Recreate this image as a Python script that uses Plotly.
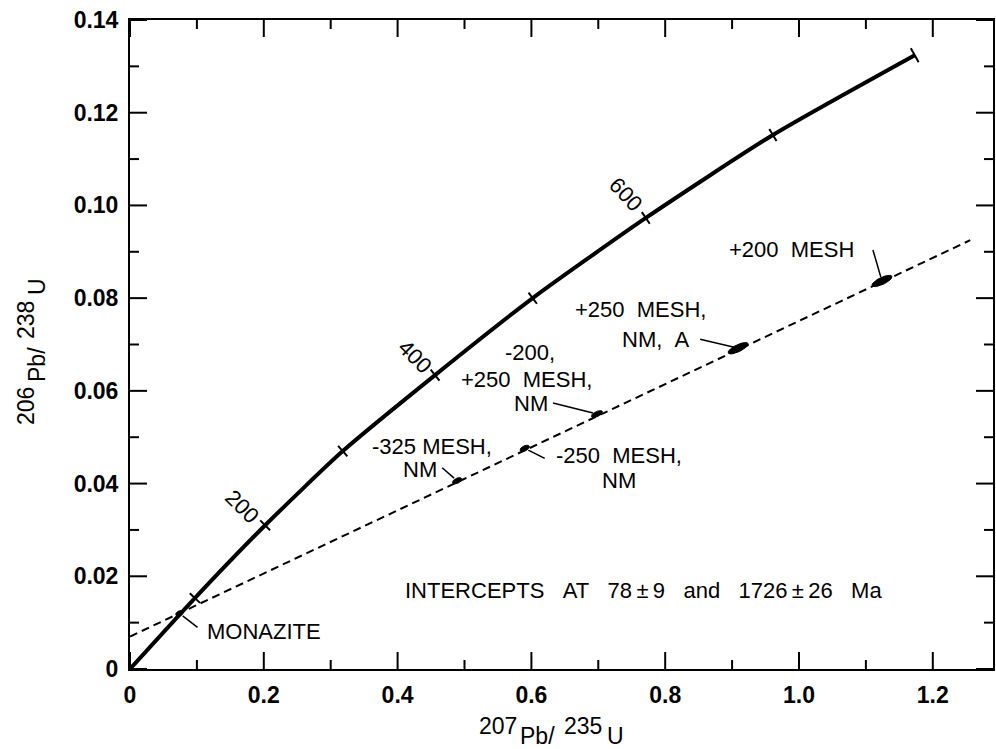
import numpy as np
import plotly.graph_objects as go

# ---------------- data ----------------
conc_age = [0, 100, 200, 300, 400, 500, 600, 700, 800]
conc_x = [0.0, 0.097, 0.202, 0.318, 0.456, 0.602, 0.771, 0.961, 1.173]
conc_y = [0.0, 0.0153, 0.0310, 0.0470, 0.0634, 0.0800, 0.0973, 0.1152, 0.1324]
age_labels = [200, 400, 600]

disc_x = [0.0, 1.256]
disc_y = [0.0070, 0.0925]

sample_names = ["MONAZITE", "-325 MESH, NM", "-250 MESH, NM",
                "-200, +250 MESH, NM", "+250 MESH, NM, A", "+200 MESH"]
sample_x = [0.074, 0.489, 0.590, 0.698, 0.909, 1.124]
sample_y = [0.0120, 0.0406, 0.0476, 0.0550, 0.0692, 0.0837]
NB = "\u00a0"
sample_label_lines = [
    ["MONAZITE"],
    ["-325 MESH,", "NM"],
    ["-250" + NB * 2 + "MESH,", "NM"],
    ["-200,", "+250" + NB * 2 + "MESH,", "NM"],
    ["+250" + NB * 2 + "MESH,", "NM," + NB * 2 + "A"],
    ["+200" + NB * 2 + "MESH"],
]
intercept_text = ("INTERCEPTS" + NB * 3 + "AT" + NB * 3 + "78\u2009±\u20099" + NB * 3 + "and"
                  + NB * 3 + "1726\u2009±\u200926" + NB * 3 + "Ma")

x_title_parts = ["207", "Pb/", "235", "U"]
y_title_parts = ["206", "Pb/", "238", "U"]

x_tickvals = [0, 0.2, 0.4, 0.6, 0.8, 1.0, 1.2]
x_ticktext = ["0", "0.2", "0.4", "0.6", "0.8", "1.0", "1.2"]
y_tickvals = [0, 0.02, 0.04, 0.06, 0.08, 0.10, 0.12, 0.14]
y_ticktext = ["0", "0.02", "0.04", "0.06", "0.08", "0.10", "0.12", "0.14"]
x_minor = [round((a + b) / 2, 3) for a, b in zip(x_tickvals, x_tickvals[1:])]
y_minor = [round((a + b) / 2, 4) for a, b in zip(y_tickvals, y_tickvals[1:])]

# ---------------- layout / style ----------------
W, H = 996, 749
ML, MR, MT, MB = 130, 3, 20, 80
XR = [0, 1.29]
YR = [0, 0.14]
SX = (W - ML - MR) / (XR[1] - XR[0])   # px per x unit
SY = (H - MT - MB) / (YR[1] - YR[0])   # px per y unit
FONT = "Liberation Sans, Arial, Helvetica, sans-serif"
FS = 22
MAJ_LEN, MIN_LEN = 17, 9
TICK_LINE = dict(color="black", width=2)

label_offsets = [
    [(25, 18, "left")],
    [(-25, -34, "center"), (-37, -11, "center")],
    [(94, 7, "center"), (94, 32, "center")],
    [(-67, -62, "center"), (-70, -35, "center"), (-66, -11, "center")],
    [(-98, -39, "center"), (-82, -9, "center")],
    [(-90, -31, "center")],
]
leader_offsets = [(18, 14), (-15, -13), (20, 10), (-44, -11), (-38, -9), (-9, -31)]
ellipse_axes = [(4, 2.5), (5, 2.5), (5, 2.5), (6, 2.5), (11, 3.5), (11, 3.5)]
age_label_offsets = [(-23, -19, 45), (-20, -19, 45), (-20, -23, 47)]
x_title_pos = [(477, 726), (518, 736), (562, 726), (605, 736)]
y_title_pos = [(26, 406), (37, 365), (26, 320), (37, 287)]

fig = go.Figure()

# axis tick marks as layout shapes (inside, all four sides), built from the tick arrays
shapes = []
for vals, ln in ((x_tickvals, MAJ_LEN), (x_minor, MIN_LEN)):
    for v in vals:
        shapes.append(dict(type="line", xref="x", yref="y", x0=v, x1=v, y0=YR[0], y1=YR[0] + ln / SY,
                           line=TICK_LINE))
        shapes.append(dict(type="line", xref="x", yref="y", x0=v, x1=v, y0=YR[1], y1=YR[1] - ln / SY,
                           line=TICK_LINE))
for vals, ln in ((y_tickvals, MAJ_LEN), (y_minor, MIN_LEN)):
    for v in vals:
        shapes.append(dict(type="line", xref="x", yref="y", x0=XR[0], x1=XR[0] + ln / SX, y0=v, y1=v,
                           line=TICK_LINE))
        shapes.append(dict(type="line", xref="x", yref="y", x0=XR[1], x1=XR[1] - ln / SX, y0=v, y1=v,
                           line=TICK_LINE))

# concordia curve
fig.add_trace(go.Scatter(x=conc_x, y=conc_y, mode="lines",
                         line=dict(color="black", width=4, shape="spline", smoothing=0.6),
                         hoverinfo="skip", showlegend=False))

# age ticks across concordia (perpendicular in screen space)
tx, ty = [], []
n = len(conc_x)
for i in range(1, n):
    j0, j1 = i - 1, min(i + 1, n - 1)
    dxp = (conc_x[j1] - conc_x[j0]) * SX
    dyp = (conc_y[j1] - conc_y[j0]) * SY
    L = np.hypot(dxp, dyp)
    nx, ny = -dyp / L, dxp / L
    h = 8 if i == n - 1 else 7
    tx += [conc_x[i] - nx * h / SX, conc_x[i] + nx * h / SX, None]
    ty += [conc_y[i] - ny * h / SY, conc_y[i] + ny * h / SY, None]
fig.add_trace(go.Scatter(x=tx, y=ty, mode="lines", line=dict(color="black", width=2),
                         hoverinfo="skip", showlegend=False))

# discordia
fig.add_trace(go.Scatter(x=disc_x, y=disc_y, mode="lines",
                         line=dict(color="black", width=2, dash="8px,5px"),
                         hoverinfo="skip", showlegend=False))

# sample ellipses oriented along discordia (screen space)
ux, uy = (disc_x[1] - disc_x[0]) * SX, (disc_y[1] - disc_y[0]) * SY
ul = np.hypot(ux, uy)
ux, uy = ux / ul, uy / ul
vx, vy = -uy, ux
tt = np.linspace(0, 2 * np.pi, 40)
for (sxv, syv), (a, b), name in zip(zip(sample_x, sample_y), ellipse_axes, sample_names):
    ex = sxv + (a * np.cos(tt) * ux + b * np.sin(tt) * vx) / SX
    ey = syv + (a * np.cos(tt) * uy + b * np.sin(tt) * vy) / SY
    fig.add_trace(go.Scatter(x=ex, y=ey, mode="lines", fill="toself", fillcolor="black",
                             line=dict(color="black", width=1), name=name,
                             hoverinfo="name", showlegend=False))

# leader lines from each sample toward its label
lx_all, ly_all = [], []
for k in range(len(sample_x)):
    lx, ly = leader_offsets[k]
    d = np.hypot(lx, ly)
    s = 4.0 / d
    lx_all += [sample_x[k] + lx * s / SX, sample_x[k] + lx / SX, None]
    ly_all += [sample_y[k] - ly * s / SY, sample_y[k] - ly / SY, None]
fig.add_trace(go.Scatter(x=lx_all, y=ly_all, mode="lines", line=dict(color="black", width=1.5),
                         hoverinfo="skip", showlegend=False))

ann = []
afont = dict(family=FONT, size=FS, color="black")
for k in range(len(sample_x)):
    for line, (dx, dy, anc) in zip(sample_label_lines[k], label_offsets[k]):
        ann.append(dict(x=sample_x[k], y=sample_y[k], xref="x", yref="y", text=line,
                        showarrow=False, xanchor=anc, yanchor="middle",
                        xshift=dx, yshift=-dy, font=afont))

for age, (dx, dy, ang) in zip(age_labels, age_label_offsets):
    i = conc_age.index(age)
    ann.append(dict(x=conc_x[i], y=conc_y[i], xref="x", yref="y", text=str(age),
                    showarrow=False, xshift=dx, yshift=-dy, textangle=ang, font=afont))

ann.append(dict(x=0, y=0, xref="paper", yref="paper", xshift=403 - ML, yshift=(H - MB) - 590,
                text=intercept_text, showarrow=False,
                xanchor="left", yanchor="middle", font=afont))

tfont = dict(family=FONT, size=23, color="black")
for part, (px, py) in zip(x_title_parts, x_title_pos):
    ann.append(dict(x=0, y=0, xref="paper", yref="paper", xshift=px - ML, yshift=(H - MB) - py,
                    text=part, showarrow=False, xanchor="left", yanchor="middle", font=tfont))
for part, (px, py) in zip(y_title_parts, y_title_pos):
    ann.append(dict(x=0, y=0, xref="paper", yref="paper", xshift=px - ML, yshift=(H - MB) - py,
                    text=part, showarrow=False, xanchor="center", yanchor="middle",
                    textangle=-90, font=tfont))

tickfont = dict(family=FONT, size=23, color="black", weight="bold")
common = dict(ticks="", showline=True, linewidth=2, linecolor="black", mirror=True,
              showgrid=False, zeroline=False)
fig.update_layout(
    width=W, height=H, margin=dict(l=ML, r=MR, t=MT, b=MB, autoexpand=False),
    paper_bgcolor="white", plot_bgcolor="white", showlegend=False,
    annotations=ann, shapes=shapes,
    xaxis=dict(range=XR, tickmode="array", tickvals=x_tickvals, ticktext=x_ticktext,
               tickfont=tickfont, ticklabelstandoff=4, **common),
    yaxis=dict(range=YR, tickmode="array", tickvals=y_tickvals, ticktext=y_ticktext,
               tickfont=tickfont, ticklabelstandoff=5, **common),
)

fig.write_html("out.html", config={"displayModeBar": False},
               post_script="document.body.style.margin='0';")
